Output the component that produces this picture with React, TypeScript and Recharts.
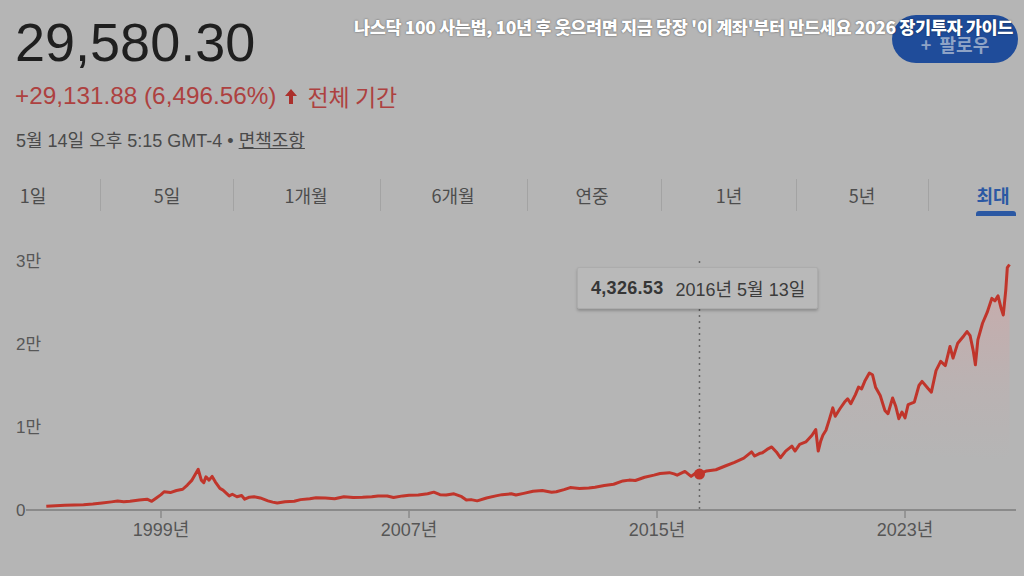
import React from 'react';
import { ComposedChart, Area, XAxis, YAxis, Tooltip } from 'recharts';

// decimal years, with the index value at each point
const years = [
  1995.3, 1995.6, 1995.9, 1996.2, 1996.5, 1996.8, 1997.1, 1997.4, 1997.6, 1997.8,
  1998.0, 1998.3, 1998.55, 1998.7, 1998.85, 1999.0, 1999.1, 1999.3, 1999.5, 1999.7,
  1999.85, 2000.0, 2000.2, 2000.3, 2000.38, 2000.45, 2000.55, 2000.65, 2000.75, 2000.9,
  2001.0, 2001.2, 2001.3, 2001.45, 2001.6, 2001.7, 2001.85, 2002.0, 2002.2, 2002.45,
  2002.6, 2002.75, 2003.0, 2003.3, 2003.5, 2003.8, 2004.0, 2004.3, 2004.6, 2004.9,
  2005.2, 2005.5, 2005.8, 2006.0, 2006.3, 2006.5, 2006.8, 2007.0, 2007.3, 2007.6,
  2007.8, 2008.0, 2008.2, 2008.45, 2008.7, 2008.85, 2009.0, 2009.2, 2009.5, 2009.8,
  2010.0, 2010.3, 2010.45, 2010.7, 2011.0, 2011.3, 2011.6, 2011.75, 2012.0, 2012.2,
  2012.5, 2012.8, 2013.0, 2013.3, 2013.6, 2013.9, 2014.1, 2014.3, 2014.6, 2014.9,
  2015.1, 2015.4, 2015.55, 2015.65, 2015.9, 2016.1, 2016.25, 2016.37, 2016.6, 2016.9,
  2017.2, 2017.5, 2017.8, 2018.05, 2018.15, 2018.3, 2018.4, 2018.55, 2018.7, 2018.85,
  2018.98, 2019.15, 2019.35, 2019.45, 2019.6, 2019.8, 2020.0, 2020.12, 2020.2, 2020.28,
  2020.35, 2020.45, 2020.55, 2020.67, 2020.75, 2020.9, 2021.05, 2021.15, 2021.25, 2021.4,
  2021.5, 2021.6, 2021.7, 2021.85, 2021.95, 2022.05, 2022.2, 2022.35, 2022.45, 2022.6,
  2022.7, 2022.8, 2022.9, 2023.0, 2023.1, 2023.3, 2023.45, 2023.55, 2023.75, 2023.85,
  2024.0, 2024.15, 2024.3, 2024.45, 2024.55, 2024.7, 2024.9, 2025.0, 2025.1, 2025.2,
  2025.27, 2025.35, 2025.5, 2025.65, 2025.8, 2025.9, 2026.0, 2026.1, 2026.17, 2026.25,
  2026.3, 2026.37,
];

const values = [
  450, 520, 560, 600, 640, 720, 850, 980, 1080, 1000,
  1050, 1200, 1300, 1050, 1450, 1850, 2200, 2100, 2350, 2500,
  3000, 3600, 4900, 3600, 3300, 4000, 3600, 4050, 3400, 2600,
  2400, 1700, 1900, 1600, 1750, 1300, 1550, 1600, 1450, 1100,
  950, 850, 1000, 1050, 1250, 1350, 1480, 1450, 1350, 1600,
  1500, 1530, 1600, 1700, 1680, 1500, 1700, 1780, 1800, 1950,
  2150, 1850, 1800, 1950, 1600, 1200, 1250, 1100, 1450, 1700,
  1850, 1950, 1800, 2000, 2250, 2350, 2150, 2200, 2450, 2700,
  2600, 2650, 2750, 2950, 3100, 3500, 3600, 3550, 3950, 4200,
  4400, 4500, 4350, 4200, 4650, 4050, 4450, 4326.53, 4700, 4850,
  5300, 5750, 6250, 7000, 6500, 6800, 6900, 7300, 7600, 7000,
  6300, 7100, 7700, 7100, 7900, 8200, 9000, 9700, 7100, 8300,
  9000, 9600, 10800, 12300, 11300, 12200, 13000, 13400, 12800, 13900,
  14800, 14600, 15500, 16500, 16300, 14800, 13800, 12000, 11600, 13500,
  12500, 11000, 11800, 11100, 12700, 13000, 15000, 15500, 14600, 14200,
  16800, 17900, 17400, 19700, 18300, 20100, 21000, 21500, 21000, 19200,
  17500, 20500, 22500, 23800, 25500, 25200, 25800, 24300, 23500, 26500,
  29200, 29580.3,
];

const xTicks = [1999, 2007, 2015, 2023];
const yTicks = [0, 10000, 20000, 30000];
const tabs = ['1일', '5일', '1개월', '6개월', '연중', '1년', '5년', '최대'];
const tooltipYear = 2016.37;
const tooltipDate = '2016년 5월 13일';

const data = years.map((t, i) => ({ t, v: values[i] }));
const tooltipIndex = years.indexOf(tooltipYear);

// layout
const tabCenters = [33, 167, 306, 453, 592, 729, 862, 993];
const tabSeparators = [100, 233, 380, 527, 661, 796, 928];
const LINE = '#c0352b';
const SANS = '"Liberation Sans", Arial, "Noto Sans CJK KR", sans-serif';
const KR = '"Noto Sans CJK KR", "Liberation Sans", sans-serif';

const YTick = (props: any) => {
  const { y, payload } = props;
  const v = payload.value;
  return (
    <text x={16} y={y} textAnchor="start" dominantBaseline="central" fill="#575757" fontSize={17} fontFamily={SANS}>
      {v === 0 ? '0' : `${v / 10000}만`}
    </text>
  );
};

const TipBox = ({ active, payload }: any) => {
  if (!active || !payload || !payload.length) return null;
  const v = Number(payload[0].value);
  return (
    <div style={{
      width: 241, height: 42, boxSizing: 'border-box', display: 'flex', alignItems: 'center',
      paddingLeft: 13, background: '#b9b9b9', border: '1px solid #acacac', borderRadius: 2,
      boxShadow: '0 2px 3px rgba(0,0,0,0.22)', fontFamily: SANS, fontSize: 18, color: '#3c3c3c',
    }}>
      <span style={{ fontWeight: 700, letterSpacing: 0.3, color: '#363636' }}>
        {v.toLocaleString('en-US', { minimumFractionDigits: 2, maximumFractionDigits: 2 })}
      </span>
      <span style={{ marginLeft: 12 }}>{tooltipDate}</span>
    </div>
  );
};

export default function App() {
  return (
    <div style={{ position: 'absolute', left: 0, top: 0, width: 1024, height: 576, background: '#b5b5b5', overflow: 'hidden', fontFamily: SANS }}>
      <div style={{ position: 'absolute', left: 15, top: 15, fontSize: 54, lineHeight: 1, color: '#1f1f1f' }}>29,580.30</div>

      <div style={{ position: 'absolute', left: 15, top: 84, fontSize: 24.3, lineHeight: 1, color: '#ad4140', display: 'flex', alignItems: 'center', whiteSpace: 'nowrap' }}>
        <span>+29,131.88 (6,496.56%)</span>
        <svg width={12} height={15} viewBox="0 0 12 15" style={{ marginLeft: 9, marginRight: 10 }}>
          <polygon points="6,0 12,7 8,7 8,15 4,15 4,7 0,7" fill="#ab302c" />
        </svg>
        <span style={{ fontFamily: KR, fontSize: 23 }}>전체 기간</span>
      </div>

      <div style={{ position: 'absolute', left: 16, top: 131, fontSize: 18, lineHeight: '20px', color: '#4a4a4a', whiteSpace: 'nowrap' }}>
        5월 14일 오후 5:15 GMT-4 • <span style={{ textDecoration: 'underline' }}>면책조항</span>
      </div>

      {tabs.map((tab, i) => (
        <div key={tab} style={{
          position: 'absolute', left: tabCenters[i], top: 184, transform: 'translateX(-50%)', fontFamily: KR,
          fontSize: 18, lineHeight: '22px', whiteSpace: 'nowrap', color: i === tabs.length - 1 ? '#2b58a3' : '#4d4d4d',
          fontWeight: i === tabs.length - 1 ? 700 : 400,
        }}>{tab}</div>
      ))}
      {tabSeparators.map((x) => (
        <div key={x} style={{ position: 'absolute', left: x, top: 179, width: 1, height: 32, background: '#a3a3a3' }} />
      ))}
      <div style={{ position: 'absolute', left: 976, top: 211, width: 40, height: 5, borderRadius: '3px 3px 0 0', background: '#2b58a3' }} />

      <div style={{
        position: 'absolute', left: 892, top: 15, width: 126, height: 48, borderRadius: 24, background: '#1f4c9a',
        color: '#8ea3c6', fontFamily: KR, fontSize: 18, fontWeight: 700, display: 'flex', alignItems: 'center',
        justifyContent: 'center', paddingTop: 10, boxSizing: 'border-box',
      }}>+&nbsp;&nbsp;팔로우</div>

      <div style={{
        position: 'absolute', left: 354, top: 15, fontFamily: KR, fontSize: 17.5, fontWeight: 900, lineHeight: '24px',
        color: '#ffffff', letterSpacing: -0.4, whiteSpace: 'nowrap', textShadow: '0 0 2px rgba(0,0,0,0.55)',
      }}>
        나스닥 100 사는법, 10년 후 웃으려면 지금 당장 '이 계좌'부터 만드세요 2026 장기투자 가이드
      </div>

      <div style={{ position: 'absolute', left: 0, top: 0 }}>
        <ComposedChart width={1024} height={576} data={data} margin={{ top: 261, right: 8, bottom: 26, left: 25 }}>
          <defs>
            <radialGradient id="areaFade" cx="1" cy="0.05" r="0.75">
              <stop offset="0" stopColor="#ea9a9a" stopOpacity={0.6} />
              <stop offset="0.6" stopColor="#ea9a9a" stopOpacity={0.15} />
              <stop offset="1" stopColor="#ea9a9a" stopOpacity={0} />
            </radialGradient>
          </defs>
          <XAxis
            dataKey="t" type="number" domain={[1994.645, 2026.58]} ticks={xTicks} height={40}
            tickFormatter={(v: number) => `${v}년`} tickSize={8} tickMargin={5}
            axisLine={{ stroke: '#8a8a8a', strokeWidth: 2 }} tickLine={{ stroke: '#8a8a8a', strokeWidth: 1.5 }}
            tick={{ fill: '#565656', fontSize: 18, fontFamily: SANS }}
          />
          <YAxis
            type="number" domain={[0, 30000]} ticks={yTicks} width={1}
            axisLine={false} tickLine={false} tick={<YTick />}
          />
          <Tooltip
            active defaultIndex={tooltipIndex} content={<TipBox />} position={{ x: 577, y: 267 }}
            allowEscapeViewBox={{ x: true, y: true }} isAnimationActive={false}
            cursor={{ stroke: '#666', strokeWidth: 1.5, strokeDasharray: '2 4' }}
          />
          <Area
            type="linear" dataKey="v" stroke={LINE} strokeWidth={3} strokeLinejoin="round" fill="url(#areaFade)"
            dot={false} activeDot={{ r: 5.5, fill: LINE, stroke: 'none' }} isAnimationActive={false}
          />
        </ComposedChart>
      </div>
    </div>
  );
}
